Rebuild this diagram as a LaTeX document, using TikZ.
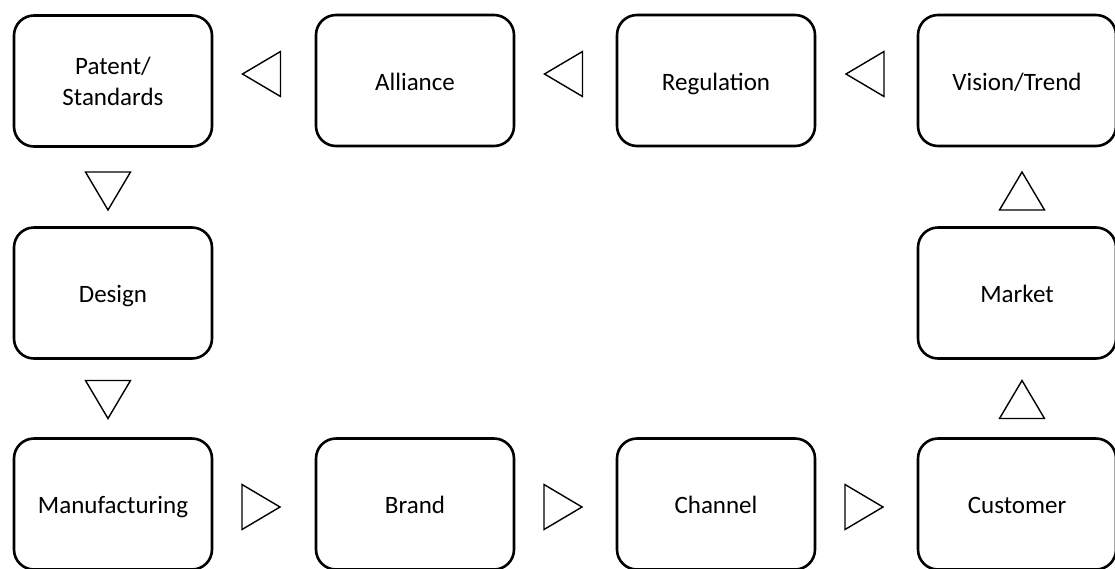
\documentclass[tikz,border=0pt]{standalone}
\usepackage{fontspec}
\setmainfont{Carlito}
\begin{document}
\begin{tikzpicture}[x=1pt,y=-1pt,
  stage/.style={draw=black, line width=2.6pt, rounded corners=20pt,
    minimum width=198pt, minimum height=131pt, align=center,
    font=\fontsize{25pt}{31pt}\selectfont, inner sep=0pt},
  oneline/.style={stage, text height=23pt, text depth=4pt},
  flowtri/.pic={\draw[line width=1.4pt, line join=miter]
    (-19,-22.5) -- (19,0) -- (-19,22.5) -- cycle;}]
\useasboundingbox (0,0) rectangle (1115,568);

% top row
\node[stage] (patent) at (113,81) {Patent/\\Standards};
\node[oneline] (alliance) at (415,80.5) {Alliance};
\node[oneline] (regulation) at (716,80.5) {Regulation};
\node[oneline] (vision) at (1017,80.5) {Vision/Trend};
% middle row
\node[oneline] (design) at (113,293) {Design};
\node[oneline] (market) at (1017,293) {Market};
% bottom row
\node[oneline] (manufacturing) at (113,504) {Manufacturing};
\node[oneline] (brand) at (415,504) {Brand};
\node[oneline] (channel) at (716,504) {Channel};
\node[oneline] (customer) at (1017,504) {Customer};

% flow direction markers along the loop
\pic[rotate=180] at (261.5,74) {flowtri};
\pic[rotate=180] at (563.5,74) {flowtri};
\pic[rotate=180] at (865,74) {flowtri};
\pic[rotate=-90] at (108,191) {flowtri};
\pic[rotate=-90] at (108,399.5) {flowtri};
\pic at (261,507) {flowtri};
\pic at (563,507) {flowtri};
\pic at (864,507) {flowtri};
\pic[rotate=90] at (1022,399.5) {flowtri};
\pic[rotate=90] at (1022,191) {flowtri};
\end{tikzpicture}
\end{document}
